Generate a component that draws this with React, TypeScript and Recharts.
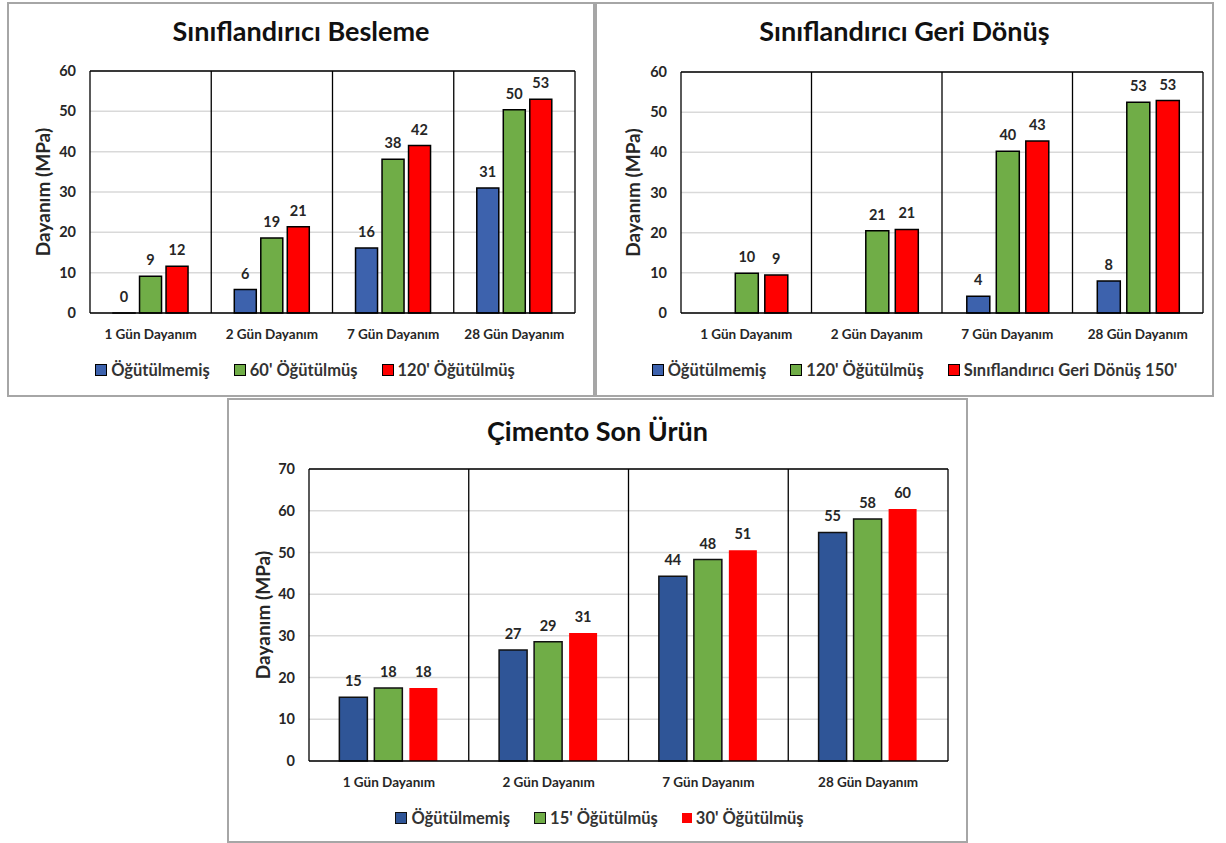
import React from 'react';
import { BarChart, Bar, XAxis, YAxis, CartesianGrid, Legend, LabelList, ReferenceLine } from 'recharts';

const FONT = 'Lato, "Open Sans", "DejaVu Sans", sans-serif';

const categories = ['1 Gün Dayanım', '2 Gün Dayanım', '7 Gün Dayanım', '28 Gün Dayanım'];

// Chart 1: Sınıflandırıcı Besleme
const besTitle = 'Sınıflandırıcı Besleme';
const besNames = ['Öğütülmemiş', "60' Öğütülmüş", "120' Öğütülmüş"];
const besUnground = [0, 5.8, 16.1, 31.0];
const bes60 = [9.1, 18.6, 38.1, 50.4];
const bes120 = [11.6, 21.4, 41.5, 53.0];
const besTicks = [0, 10, 20, 30, 40, 50, 60];

// Chart 2: Sınıflandırıcı Geri Dönüş
const geriTitle = 'Sınıflandırıcı Geri Dönüş';
const geriNames = ['Öğütülmemiş', "120' Öğütülmüş", "Sınıflandırıcı Geri Dönüş 150'"];
const geriUnground = [null, null, 4.2, 7.95];
const geri120 = [9.9, 20.5, 40.3, 52.5];
const geri150 = [9.45, 20.8, 42.8, 52.9];
const geriTicks = [0, 10, 20, 30, 40, 50, 60];

// Chart 3: Çimento Son Ürün
const cimTitle = 'Çimento Son Ürün';
const cimNames = ['Öğütülmemiş', "15' Öğütülmüş", "30' Öğütülmüş"];
const cimUnground = [15.3, 26.6, 44.3, 54.8];
const cim15 = [17.5, 28.6, 48.3, 58.0];
const cim30 = [17.5, 30.7, 50.5, 60.4];
const cimTicks = [0, 10, 20, 30, 40, 50, 60, 70];

const yLabel = 'Dayanım (MPa)';

const build = (a: (number | null)[], b: (number | null)[], c: (number | null)[]) =>
  categories.map((cat, i) => ({ cat, s0: a[i], s1: b[i], s2: c[i] }));

type SeriesStyle = { fill: string; stroke: string };

type PanelProps = {
  left: number; top: number; width: number; height: number;
  title: string; titleTop: number;
  data: any[]; names: string[]; styles: SeriesStyle[]; ticks: number[];
  margin: { top: number; right: number; bottom: number };
  yWidth: number; yLabelX: number; barGap: number; legendDx: number;
};

const LegendRow = ({ names, styles, dx }: { names: string[]; styles: SeriesStyle[]; dx: number }) => (
  <div style={{ display: 'flex', justifyContent: 'center', alignItems: 'center', height: 20, gap: 24, transform: `translateX(${dx}px)`, fontFamily: FONT }}>
    {names.map((n, i) => (
      <div key={n} style={{ display: 'flex', alignItems: 'center', gap: 4 }}>
        <span style={{ display: 'inline-block', width: 10, height: 10, background: styles[i].fill, border: `1px solid ${styles[i].stroke}` }} />
        <span style={{ fontSize: 16.5, fontWeight: 700, color: '#333', whiteSpace: 'nowrap' }}>{n}</span>
      </div>
    ))}
  </div>
);

const zeroMin = (v: any) => (v === 0 ? 0.01 : 0);

const Panel = (p: PanelProps) => {
  const yMax = p.ticks[p.ticks.length - 1];
  const tickStyle = { fontSize: 14.5, fontWeight: 700, fill: '#262626', fontFamily: FONT };
  const keys = ['s0', 's1', 's2'];
  return (
    <>
      <div style={{ position: 'absolute', left: p.left, top: p.top, width: p.width, height: p.height, border: '2px solid #a6a6a6', boxSizing: 'border-box', background: '#fff' }} />
      <div style={{ position: 'absolute', left: p.left, top: p.top }}>
        <BarChart width={p.width} height={p.height} data={p.data}
          margin={{ top: p.margin.top, right: p.margin.right, bottom: p.margin.bottom, left: 0 }}
          barCategoryGap="19%" barGap={p.barGap}>
          <CartesianGrid vertical={false} stroke="#d9d9d9" strokeWidth={1.5} />
          <CartesianGrid horizontal={false} stroke="#000" strokeWidth={1.3}
            verticalCoordinatesGenerator={({ offset }: any) => [0, 1, 2, 3, 4].map(i => offset.left + (offset.width * i) / 4)} />
          <ReferenceLine y={yMax} stroke="#000" strokeWidth={1.3} />
          {keys.map((k, i) => (
            <Bar key={k} dataKey={k} name={p.names[i]} fill={p.styles[i].fill} stroke={p.styles[i].stroke}
              strokeWidth={p.styles[i].stroke === 'none' ? 0 : 1.5} isAnimationActive={false} minPointSize={zeroMin}>
              <LabelList dataKey={k} position="top" offset={11}
                formatter={(v: any) => (v === null || v === undefined ? '' : String(Math.round(Number(v))))}
                style={{ fontSize: 14.5, fontWeight: 700, fill: '#262626', fontFamily: FONT }} />
            </Bar>
          ))}
          <XAxis dataKey="cat" interval={0} tickLine={false} axisLine={{ stroke: '#000', strokeWidth: 1.5 }}
            height={47} tickMargin={10} tick={{ ...tickStyle, fontSize: 13.5 }} />
          <YAxis domain={[0, yMax]} ticks={p.ticks} width={p.yWidth} axisLine={false} tickLine={false}
            tickMargin={8} tick={tickStyle} interval={0}
            label={{
              content: ({ viewBox }: any) => (
                <text x={viewBox.x + p.yLabelX} y={viewBox.y + viewBox.height / 2} textAnchor="middle" dominantBaseline="central"
                  transform={`rotate(-90 ${viewBox.x + p.yLabelX} ${viewBox.y + viewBox.height / 2})`}
                  style={{ fontSize: 19, fontWeight: 700, fill: '#262626', fontFamily: FONT }}>{yLabel}</text>
              ),
            }} />
          <Legend verticalAlign="bottom" wrapperStyle={{ left: 0, width: p.width }}
            content={() => <LegendRow names={p.names} styles={p.styles} dx={p.legendDx} />} />
        </BarChart>
      </div>
      <div style={{ position: 'absolute', left: p.left, top: p.titleTop, width: p.width, textAlign: 'center', fontFamily: FONT, fontWeight: 700, fontSize: 27, color: '#111', lineHeight: '30px' }}>{p.title}</div>
    </>
  );
};

const st12: SeriesStyle[] = [
  { fill: '#3d62ad', stroke: '#000' },
  { fill: '#70ad47', stroke: '#000' },
  { fill: '#ff0000', stroke: '#000' },
];
const st3: SeriesStyle[] = [
  { fill: '#2f5597', stroke: '#111' },
  { fill: '#70ad47', stroke: '#111' },
  { fill: '#ff0000', stroke: 'none' },
];

export default function App() {
  return (
    <div style={{ position: 'absolute', left: 0, top: 0, width: 1226, height: 843, background: '#fff', overflow: 'hidden' }}>
      <Panel left={7} top={2} width={588} height={395} title={besTitle} titleTop={16}
        data={build(besUnground, bes60, bes120)} names={besNames} styles={st12} ticks={besTicks}
        margin={{ top: 69, right: 20, bottom: 17 }} yWidth={83} yLabelX={35} barGap={4.5} legendDx={4} />
      <Panel left={595} top={2} width={619} height={395} title={geriTitle} titleTop={16}
        data={build(geriUnground, geri120, geri150)} names={geriNames} styles={st12} ticks={geriTicks}
        margin={{ top: 70, right: 11, bottom: 17 }} yWidth={86} yLabelX={37} barGap={6.5} legendDx={10} />
      <Panel left={227} top={398} width={741} height={445} title={cimTitle} titleTop={416}
        data={build(cimUnground, cim15, cim30)} names={cimNames} styles={st3} ticks={cimTicks}
        margin={{ top: 71, right: 20, bottom: 15 }} yWidth={82} yLabelX={35} barGap={7} legendDx={2} />
    </div>
  );
}
